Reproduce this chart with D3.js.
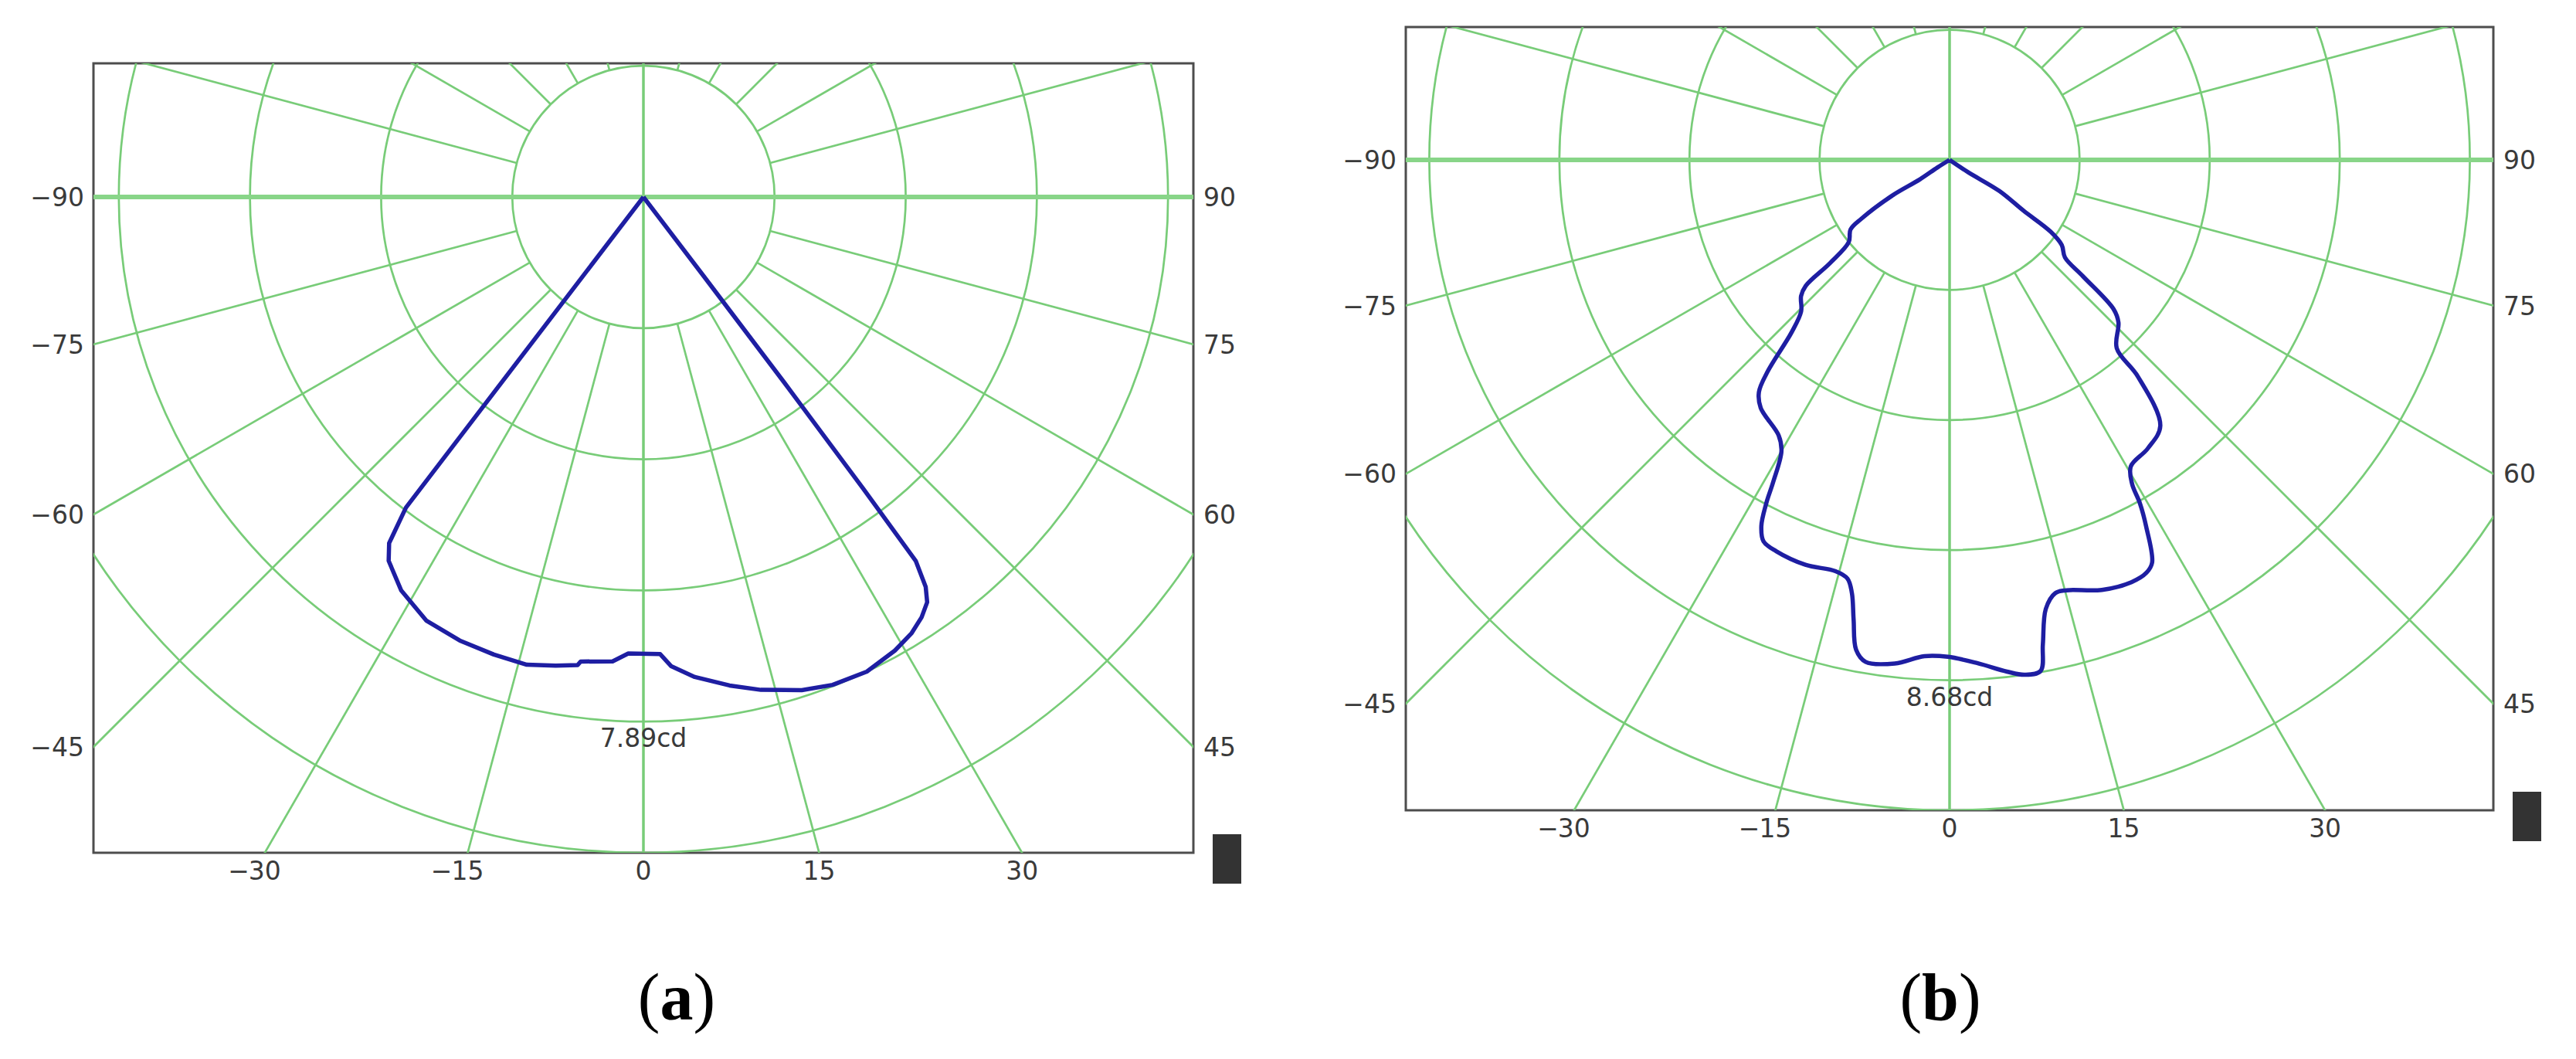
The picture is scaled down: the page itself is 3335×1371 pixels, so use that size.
<!DOCTYPE html>
<html lang="en">
<head>
<meta charset="UTF-8">
<title>Luminous intensity distribution</title>
<style>
  html, body { margin: 0; padding: 0; background: #fff; }
  svg { display: block; }
</style>
</head>
<body>
<div id="chart"></div>
<script src="https://d3js.org/d3.v7.min.js"></script>
<script>
// angle from nadir in degrees (+ = right side), intensity in cd
const anglesA = [-38, -37.4, -36.3, -35.0, -31.6, -27.1, -22.5, -18.1, -14.0, -10.6, -8.0, -7.7,
  -3.8, -1.9, 2.1, 3.4, 6.1, 10.0, 13.4, 17.8, 21.2, 25.2, 29.0, 31.6, 33.5, 35.0, 35.9,
  36.8, 37.0, 37.2, 37.3, 37.3];
const candelaA = [0, 5.88, 6.46, 6.68, 6.95, 7.16, 7.22, 7.24, 7.25, 7.17, 7.11, 7.05,
  7.00, 6.87, 6.88, 7.07, 7.26, 7.46, 7.62, 7.79, 7.87, 7.89, 7.80, 7.70, 7.58, 7.44, 7.24,
  6.84, 5.50, 3.50, 1.50, 0];
const peakA = 7.89;

const anglesB = [-58, -58, -56.7, -58.1, -56.3, -54.9, -50.8, -49.2, -48.8, -47.5, -44.4, -42.5,
  -40.7, -39.4, -37.3, -31.8, -30.0, -28.7, -28.1, -27.2, -26.0, -23.9, -19.6, -15.5, -13.7,
  -12.7, -11.8, -10.8, -9.5, -6.2, -2.9, -0.2, 3.2, 6.4, 8.3, 10.1, 10.9, 12.1, 13.7, 15.2,
  19.5, 23.3, 25.5, 26.7, 28.2, 29.0, 29.4, 30.6, 34.5, 38.4, 41.0, 41.6, 46.1, 47.7, 48.9,
  49.8, 52.8, 54.6, 55.5, 58.0, 56.3, 56];
const candelaB = [0, 0.24, 0.59, 1.13, 1.77, 2.02, 2.17, 2.63, 3.19, 3.36, 3.54, 3.90,
  4.65, 5.01, 5.20, 5.41, 5.61, 6.13, 6.49, 6.87, 7.08, 7.14, 7.17, 7.12, 7.19,
  7.41, 7.83, 8.32, 8.49, 8.45, 8.29, 8.29, 8.41, 8.59, 8.68, 8.66, 8.23, 7.66, 7.44, 7.44,
  7.61, 7.67, 7.63, 7.52, 6.94, 6.55, 6.20, 5.94, 5.84, 5.66, 4.79, 4.20, 3.91, 3.70, 2.95,
  2.52, 2.35, 2.07, 1.50, 0.98, 0.37, 0];
const peakB = 8.68;

const sideTicks = [45, 60, 75, 90];
const bottomTicks = [-30, -15, 0, 15, 30];
const spokeAngles = d3.range(-165, 195, 15);
const ringSteps = d3.range(1, 6);

const W = 3335, H = 1371;
const svg = d3.select('#chart').append('svg')
  .attr('width', W).attr('height', H)
  .attr('viewBox', `0 0 ${W} ${H}`);
svg.append('rect').attr('width', W).attr('height', H).attr('fill', '#fff');

const panels = [
  { id: 'a', angles: anglesA, values: candelaA, peak: peakA,
    left: 121, right: 1545, top: 82, bottom: 1104, cy: 255,
    capX: 876, curve: d3.curveLinear },
  { id: 'b', angles: anglesB, values: candelaB, peak: peakB,
    left: 1820, right: 3228, top: 35, bottom: 1049, cy: 207,
    capX: 2512, curve: d3.curveCatmullRom.alpha(0.5) }
];

const labelFont = 'DejaVu Sans, Verdana, sans-serif';
const gridColor = '#78cc78';

panels.forEach(p => {
  const cx = (p.left + p.right) / 2;
  const ring = (p.bottom - p.cy) / 5;
  const r = d3.scaleLinear().domain([0, p.peak]).range([0, ring * 4]);
  // nadir = 0 deg pointing down, positive to the right
  const ang = d3.scaleLinear().domain([-180, 180]).range([2 * Math.PI, 0]);
  const step = p.peak / 4;

  svg.append('clipPath').attr('id', 'clip-' + p.id)
    .append('rect')
    .attr('x', p.left).attr('y', p.top)
    .attr('width', p.right - p.left).attr('height', p.bottom - p.top);

  // frame
  svg.append('rect')
    .attr('x', p.left).attr('y', p.top)
    .attr('width', p.right - p.left).attr('height', p.bottom - p.top)
    .attr('fill', '#fff')
    .attr('stroke', '#4d4d4d').attr('stroke-width', 3);

  const grid = svg.append('g')
    .attr('clip-path', `url(#clip-${p.id})`)
    .append('g')
    .attr('transform', `translate(${cx},${p.cy})`);

  // rings
  grid.selectAll('circle.ring')
    .data(ringSteps)
    .join('circle')
    .attr('class', 'ring')
    .attr('r', k => r(k * step))
    .attr('fill', 'none')
    .attr('stroke', gridColor)
    .attr('stroke-width', 2.7);

  // spokes from the first ring outward
  const far = 3000;
  grid.selectAll('line.spoke')
    .data(spokeAngles.filter(a => a % 90 !== 0))
    .join('line')
    .attr('class', 'spoke')
    .attr('x1', a => r(step) * Math.sin(ang(a)))
    .attr('y1', a => -r(step) * Math.cos(ang(a)))
    .attr('x2', a => far * Math.sin(ang(a)))
    .attr('y2', a => -far * Math.cos(ang(a)))
    .attr('stroke', gridColor)
    .attr('stroke-width', 2.7);

  // main axes through the centre
  grid.append('line')
    .attr('x1', 0).attr('y1', -far).attr('x2', 0).attr('y2', far)
    .attr('stroke', gridColor).attr('stroke-width', 3.5);
  grid.append('line')
    .attr('x1', -far).attr('y1', 0).attr('x2', far).attr('y2', 0)
    .attr('stroke', '#88d588').attr('stroke-width', 6);

  // intensity curve
  const pts = p.angles.map((a, i) => [ang(a), r(p.values[i])]);
  const line = d3.lineRadial().curve(p.curve);
  grid.append('path')
    .attr('d', line(pts))
    .attr('fill', 'none')
    .attr('stroke', '#1e1ea2')
    .attr('stroke-width', 5.5)
    .attr('stroke-linejoin', 'round');

  // peak label
  svg.append('text')
    .attr('x', cx).attr('y', p.cy + r(p.peak) + 33)
    .attr('text-anchor', 'middle')
    .attr('font-family', labelFont).attr('font-size', 33)
    .attr('fill', '#3a3a3a')
    .text(p.peak.toFixed(2) + 'cd');

  // side labels where the spokes meet the frame
  const hw = (p.right - p.left) / 2;
  sideTicks.forEach(t => {
    const rad = t * Math.PI / 180;
    const y = p.cy + hw * Math.cos(rad) / Math.sin(rad);
    svg.append('text')
      .attr('x', p.left - 12).attr('y', y).attr('dy', '0.36em')
      .attr('text-anchor', 'end')
      .attr('font-family', labelFont).attr('font-size', 33)
      .attr('fill', '#3a3a3a')
      .text('\u2212' + t);
    svg.append('text')
      .attr('x', p.right + 13).attr('y', y).attr('dy', '0.36em')
      .attr('text-anchor', 'start')
      .attr('font-family', labelFont).attr('font-size', 33)
      .attr('fill', '#3a3a3a')
      .text(t);
  });

  // bottom labels, digits centred on the spoke
  const hb = p.bottom - p.cy;
  bottomTicks.forEach(t => {
    const x = cx + hb * Math.tan(t * Math.PI / 180);
    const num = svg.append('text')
      .attr('x', x).attr('y', p.bottom + 35)
      .attr('text-anchor', 'middle')
      .attr('font-family', labelFont).attr('font-size', 33)
      .attr('fill', '#3a3a3a')
      .text(Math.abs(t));
    if (t < 0) {
      const w = num.node().getComputedTextLength();
      svg.append('text')
        .attr('x', x - w / 2 + 1).attr('y', p.bottom + 35)
        .attr('text-anchor', 'end')
        .attr('font-family', labelFont).attr('font-size', 33)
        .attr('fill', '#3a3a3a')
        .text('\u2212');
    }
  });

  // small dark marker
  svg.append('rect')
    .attr('x', p.right + 25).attr('y', p.bottom - 24)
    .attr('width', 37).attr('height', 64)
    .attr('fill', '#333');

  // caption
  const cap = svg.append('text')
    .attr('x', p.capX).attr('y', 1320)
    .attr('text-anchor', 'middle')
    .attr('font-family', 'Liberation Serif, Times New Roman, serif')
    .attr('font-size', 86)
    .attr('fill', '#000');
  cap.append('tspan').text('(');
  cap.append('tspan').attr('font-weight', 'bold').text(p.id);
  cap.append('tspan').text(')');
});
</script>
</body>
</html>
